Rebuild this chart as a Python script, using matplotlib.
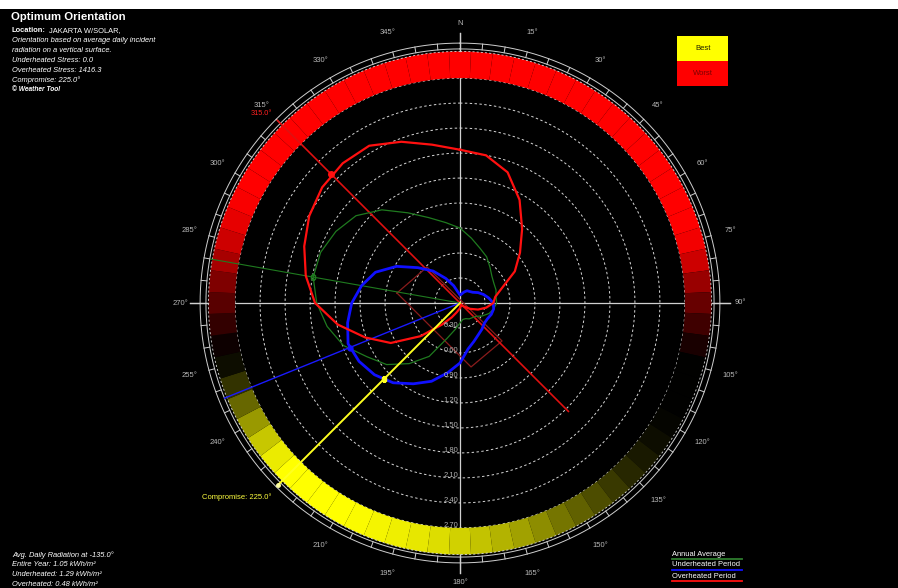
import numpy as np
import matplotlib
matplotlib.use("Agg")
import matplotlib.pyplot as plt
from matplotlib.colors import LinearSegmentedColormap, Normalize
from matplotlib.lines import Line2D
from matplotlib.patches import Rectangle

plt.rcParams["font.family"] = ["Liberation Sans", "DejaVu Sans"]

# Average daily incident radiation (kWh/m²) on a vertical surface facing each direction
curve_deg = np.arange(0, 360, 10)
annual_average = [0.90, 0.79, 0.70, 0.64, 0.56, 0.50, 0.47, 0.46, 0.44, 0.44,
                  0.41, 0.37, 0.31, 0.25, 0.23, 0.22, 0.20, 0.20, 0.24, 0.32,
                  0.45, 0.74, 0.95, 1.15, 1.29, 1.49, 1.62, 1.72, 1.79, 1.78,
                  1.72, 1.63, 1.46, 1.25, 1.09, 0.98]
underheated = [0.10, 0.11, 0.14, 0.17, 0.18, 0.20, 0.25, 0.30, 0.35, 0.40,
               0.41, 0.40, 0.38, 0.38, 0.41, 0.44, 0.49, 0.56, 0.72, 0.85,
               1.00, 1.12, 1.25, 1.34, 1.40, 1.43, 1.37, 1.30, 1.20, 1.08,
               0.88, 0.66, 0.50, 0.34, 0.22, 0.13]
overheated = [1.84, 1.80, 1.67, 1.43, 1.16, 0.94, 0.76, 0.54, 0.43, 0.40,
              0.32, 0.23, 0.14, 0.07, 0.04, 0.02, 0.02, 0.04, 0.06, 0.08,
              0.12, 0.20, 0.34, 0.62, 0.96, 1.21, 1.49, 1.74, 1.88, 1.99,
              2.09, 2.16, 2.19, 2.18, 2.06, 1.93]

# Orientation rating band: -1 = worst (red), +1 = best (yellow)
band_deg = np.arange(0, 360, 5)
band_score = ([-1.0] * 15 +
              [-0.95, -0.8, -0.6, -0.4, -0.25, -0.1, 0.0, 0.0, 0.0, 0.02,
               0.05, 0.1, 0.15, 0.22, 0.3, 0.38, 0.46, 0.55, 0.63, 0.7,
               0.76, 0.82, 0.86, 0.9, 0.93, 0.96, 0.98, 1.0, 1.0, 1.0,
               1.0, 0.92, 0.78, 0.6, 0.4, 0.2, 0.05, -0.05, -0.2, -0.35,
               -0.5, -0.65, -0.8, -0.9, -0.97] +
              [-1.0] * 12)

# Peak directions of each period and the compromise
annual_best_deg, annual_best_val = 280.0, 1.79
under_best_deg, under_best_val = 248.0, 1.43
over_worst_deg, over_worst_val = 315.0, 2.19
over_opposite_val = 1.84
compromise_deg, compromise_val = 225.0, 1.29

# Building footprint outline (deg, kWh-scale radius)
footprint_deg = [279.0, 317.5, 132.1, 170.2]
footprint_r = [0.766, 0.586, 0.680, 0.779]

ring_values = [0.30, 0.60, 0.90, 1.20, 1.50, 1.80, 2.10, 2.40, 2.70]
ring_labels = ["0.30", "0.60", "0.90", "1.20", "1.50", "1.80", "2.10", "2.40", "2.70"]
compass_deg = list(range(0, 360, 15))
compass_labels = ["N"] + [f"{d}°" for d in range(15, 360, 15)]

info_lines = [
    ("Location: JAKARTA W/SOLAR,", "normal"),
    ("Orientation based on average daily incident", "italic"),
    ("radiation on a vertical surface.", "italic"),
    ("Underheated Stress: 0.0", "italic"),
    ("Overheated Stress: 1416.3", "italic"),
    ("Compromise: 225.0°", "italic"),
    ("© Weather Tool", "italic"),
]
avg_lines = [
    "Avg. Daily Radiation at -135.0°",
    "Entire Year: 1.05 kWh/m²",
    "Underheated: 1.29 kWh/m²",
    "Overheated: 0.48 kWh/m²",
]
legend_items = [("Annual Average", "#2e7d2e"),
                ("Underheated Period", "#1010ff"),
                ("Overheated Period", "#ff1010")]

W, H = 898, 588
CX, CY = 460, 303
PX_PER_UNIT = 83.3
R_MAX = 3.4

fig = plt.figure(figsize=(W / 100, H / 100), dpi=100, facecolor="black")
fig.add_artist(Rectangle((0, 1 - 9 / H), 1, 9 / H, transform=fig.transFigure,
                         facecolor="white", edgecolor="none"))

rad = R_MAX * PX_PER_UNIT
ax = fig.add_axes([(CX - rad) / W, (H - CY - rad) / H, 2 * rad / W, 2 * rad / H],
                  projection="polar")
ax.set_theta_zero_location("N")
ax.set_theta_direction(-1)
ax.set_ylim(0, R_MAX)
ax.set_axis_off()

full = np.linspace(0, 2 * np.pi, 721)
th = np.deg2rad

# crosshair
for d in (0, 90, 180, 270):
    ax.plot([th(d), th(d)], [0, 3.24], color="#d0d0d0", lw=0.9, zorder=1)

# dashed value rings
for v in ring_values:
    ax.plot(full, np.full_like(full, v), color="#d8d8d8", lw=0.7,
            ls=(0, (2.5, 2.5)), zorder=2)

# rating band
cmap = LinearSegmentedColormap.from_list("rating", ["#ff0000", "#000000", "#ffff00"])
norm = Normalize(-1, 1)
ax.bar(th(band_deg), 3.02 - 2.70, width=th(5), bottom=2.70,
       color=cmap(norm(np.array(band_score))), edgecolor="none", linewidth=0,
       align="center", zorder=3)
ax.plot(full, np.full_like(full, 3.02), color="#d8d8d8", lw=0.6,
        ls=(0, (2.5, 2.5)), zorder=4)

# compass ring with 5-degree ticks
for rr in (3.05, 3.12):
    ax.plot(full, np.full_like(full, rr), color="#cfcfcf", lw=0.7, zorder=4)
for d in range(0, 360, 5):
    ax.plot([th(d), th(d)], [3.05, 3.12], color="#cfcfcf", lw=0.7, zorder=4)
for d in (0, 90, 180, 270):
    ax.plot([th(d), th(d)], [3.02, 3.24], color="#d0d0d0", lw=0.9, zorder=4)
for d, lab in zip(compass_deg, compass_labels):
    if d == compromise_deg:
        continue  # the compromise label sits at this direction
    ax.text(th(d), 3.36, lab, ha="center", va="center", color="#b8b8b8",
            fontsize=5.5, zorder=6)

# building footprint
fp_t = th(np.array(footprint_deg + footprint_deg[:1]))
fp_r = footprint_r + footprint_r[:1]
ax.plot(fp_t, fp_r, color="#8b1c1c", lw=0.9, zorder=5)

# direction lines
ax.plot([th(over_worst_deg), 0, th(over_worst_deg - 180)],
        [3.10, 0, over_opposite_val], color="#e01010", lw=1.2, zorder=6)
ax.plot([th(annual_best_deg), th(annual_best_deg)], [0, 3.04],
        color="#1f7a1f", lw=0.8, zorder=6)
ax.plot([th(under_best_deg), th(under_best_deg)], [0, 3.05],
        color="#1a1aff", lw=1.0, zorder=6)
ax.plot([th(compromise_deg), th(compromise_deg)], [0, 3.09],
        color="#ffff20", lw=1.4, zorder=7)

# radiation curves
ct = th(np.append(curve_deg, curve_deg[0]))
ax.plot(ct, annual_average + annual_average[:1], color="#1f7a1f", lw=0.9, zorder=6)
ax.plot(ct, underheated + underheated[:1], color="#1010ff", lw=2.0, zorder=6)
ax.plot(ct, overheated + overheated[:1], color="#ff1010", lw=1.6, zorder=6)

# peak markers
ax.plot(th(over_worst_deg), over_worst_val, "o", color="#ff1010", ms=4, zorder=8)
ax.plot(th(under_best_deg), under_best_val, "o", color="#1010ff", ms=3.5, zorder=8)
ax.plot(th(annual_best_deg), annual_best_val, "s", color="#1f7a1f",
        mfc="none", ms=3.5, zorder=8)
ax.plot(th(compromise_deg), compromise_val, "s", color="#ffff20", ms=3.5, zorder=8)
ax.plot(th(compromise_deg), 3.09, "o", color="#ffffa0", ms=2.5, zorder=8)

# value ring labels along the south axis
for v, lab in zip(ring_values, ring_labels):
    ax.annotate(lab, (np.pi, v), xytext=(-1.5, 1.5), textcoords="offset points",
                ha="right", va="center", color="#b0b0b0", fontsize=5.5, zorder=9)

ax.text(th(313.7), 3.29, f"{over_worst_deg:.1f}°", ha="center", va="center",
        color="#ff2020", fontsize=5.3, zorder=9)
ax.text(th(224.1), 3.25, f"Compromise: {compromise_deg:.1f}°", ha="right",
        va="center", color="#ffff40", fontsize=5.5, zorder=9)

# header text
fig.text(11 / W, 1 - 17.5 / H, "Optimum Orientation", color="white",
         fontsize=8.2, fontweight="bold", va="center")
line_y = [31.7, 40.7, 50.0, 60.0, 70.7, 80.0, 89.3]
for (txt, style), yy in zip(info_lines, line_y):
    if txt.startswith("Location:"):
        head = fig.text(12 / W, 1 - yy / H, "Location:", color="white",
                        fontsize=5.4, fontweight="bold", va="baseline")
        ax.annotate(txt.split(":", 1)[1].strip(), xy=(1, 0), xycoords=head,
                    xytext=(2, 0), textcoords="offset points", ha="left",
                    va="bottom", color="white", fontsize=5.4,
                    annotation_clip=False)
    elif txt.startswith("©"):
        fig.text(12 / W, 1 - yy / H, txt, color="white", fontsize=4.8,
                 fontweight="bold", style="italic", va="center")
    else:
        fig.text(12 / W, 1 - yy / H, txt, color="white", fontsize=5.4,
                 style=style, va="center")

for txt, yy in zip(avg_lines, [555, 565, 574.5, 584]):
    fig.text(12 / W, 1 - yy / H, txt, color="white", fontsize=5.4,
             style="italic", va="center")

# legend
for (txt, col), yy in zip(legend_items, [554, 565, 576]):
    fig.text(672 / W, 1 - yy / H, txt, color="white", fontsize=5.4, va="center")
    fig.add_artist(Line2D([672 / W, 742 / W], [1 - (yy + 5) / H] * 2,
                          transform=fig.transFigure, color=col, lw=1.3))

# best / worst key
fig.add_artist(Rectangle((677 / W, 1 - 61 / H), 51 / W, 25 / H,
                         transform=fig.transFigure, facecolor="#ffff00",
                         edgecolor="none"))
fig.add_artist(Rectangle((677 / W, 1 - 86 / H), 51 / W, 25 / H,
                         transform=fig.transFigure, facecolor="#ff0000",
                         edgecolor="none"))
fig.text(703 / W, 1 - 48 / H, "Best", color="#202000", fontsize=5.5,
         ha="center", va="center")
fig.text(703 / W, 1 - 73.5 / H, "Worst", color="#7a0000", fontsize=5.5,
         ha="center", va="center")

fig.savefig("out.png", dpi=100, facecolor=fig.get_facecolor())
